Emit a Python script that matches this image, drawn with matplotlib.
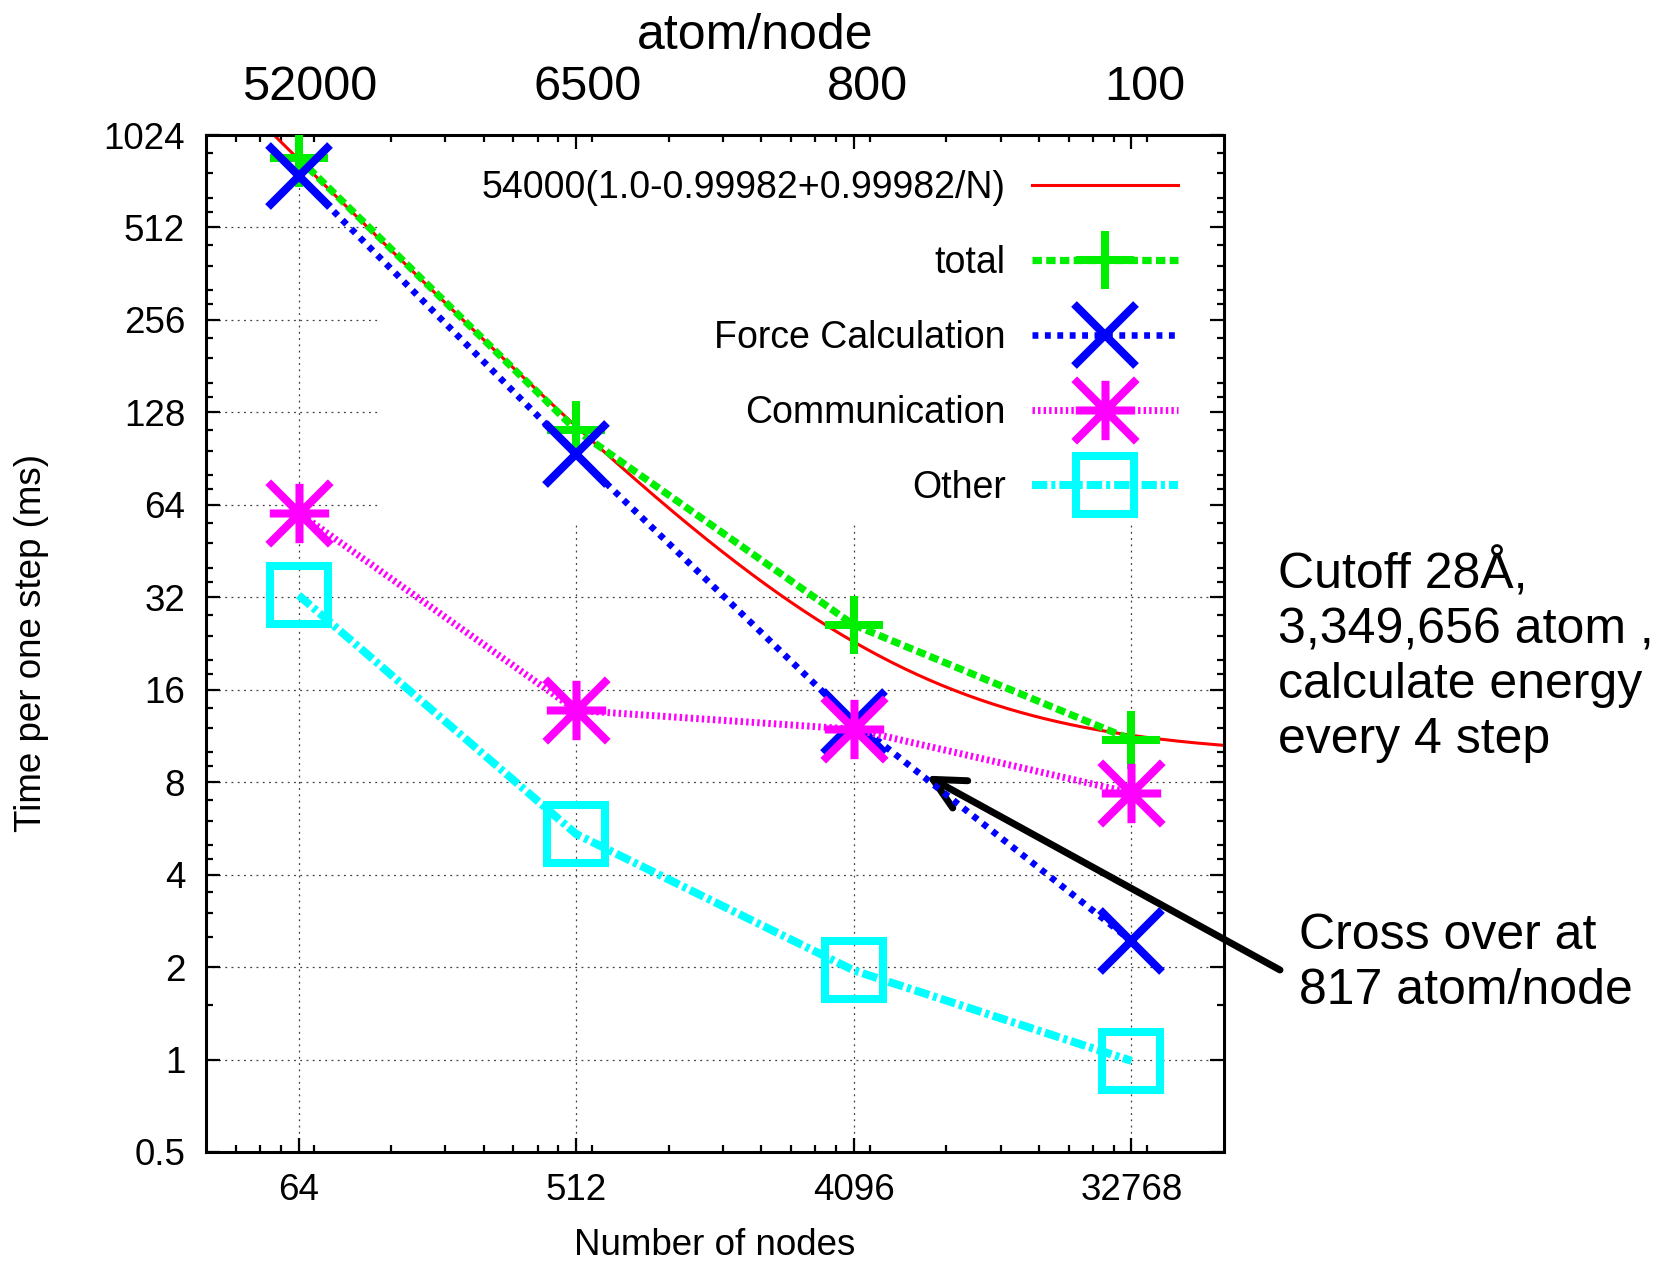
import matplotlib
matplotlib.use("Agg")
import matplotlib.pyplot as plt
import numpy as np
from matplotlib.path import Path
from matplotlib.ticker import NullFormatter
from matplotlib.transforms import blended_transform_factory

plt.rcParams['font.family'] = ['Liberation Sans', 'DejaVu Sans']

# ---- data ----
nodes = [64, 512, 4096, 32768]
total = [860, 112, 26.0, 11.0]
force_calc = [752, 93.4, 12.6, 2.43]
communication = [60.3, 13.7, 11.9, 7.38]
other = [32.5, 5.42, 1.95, 0.99]

# model curve from the legend: 54000(1.0-0.99982+0.99982/N)
model_scale = 54000
model_par = 0.99982

n_atoms = 3349656
atom_labels = [52000, 6500, 800, 100]

y_ticks = [0.5, 1, 2, 4, 8, 16, 32, 64, 128, 256, 512, 1024]
crossover_point = (7040, 8.4)

# ---- figure ----
fig = plt.figure(figsize=(16.59, 12.62), dpi=100)
ax = fig.add_axes([0.1242, 0.0872, 0.6136, 0.8058])

ax.set_xscale('log', base=2)
ax.set_yscale('log', base=2)
ax.set_xlim(32, 65536)
ax.set_ylim(0.5, 1024)

# gnuplot style minor ticks
x_minor = []
for k in range(1, 6):
    for n in [2, 3, 4, 5, 6, 7, 9]:
        v = n * 8 ** k
        if 32 < v < 65536:
            x_minor.append(v)
y_minor = []
for k in range(-1, 10):
    for f in [1.125, 1.25, 1.5, 1.75]:
        v = 2.0 ** k * f
        if (v * 2) == int(v * 2):
            y_minor.append(v)

ax.set_xticks(nodes)
ax.set_xticklabels([str(n) for n in nodes])
ax.set_xticks(x_minor, minor=True)
ax.set_yticks(y_ticks)
ax.set_yticklabels([('%g' % v) for v in y_ticks])
ax.set_yticks(y_minor, minor=True)
ax.xaxis.set_minor_formatter(NullFormatter())
ax.yaxis.set_minor_formatter(NullFormatter())
ax.tick_params(which='both', direction='in', top=True, right=True, width=1.6,
               labelsize=26.5)
ax.tick_params(which='major', length=10)
ax.tick_params(which='minor', length=5)
ax.tick_params(axis='x', pad=15)
ax.tick_params(axis='y', pad=15)
for s in ax.spines.values():
    s.set_linewidth(2.2)

# grid, hidden behind the key area
key_left = 0.168
key_bottom = 0.618
grid_kw = dict(color='0.25', lw=0.9, linestyle=(0, (1.5, 3.5)), zorder=1)
for y in y_ticks[1:-1]:
    xmax = key_left if y > 55 else 1.0
    ax.axhline(y, xmin=0, xmax=xmax, **grid_kw)
for x in nodes:
    ymax = key_bottom if x > 115 else 1.0
    ax.axvline(x, ymin=0, ymax=ymax, **grid_kw)

# model curve
n_fine = np.geomspace(32, 65536, 400)
model = model_scale * (1.0 - model_par + model_par / n_fine)
ax.plot(n_fine, model, color='#ff0000', lw=2.2, zorder=2,
        label='54000(1.0-0.99982+0.99982/N)')

asterisk = Path([(-0.95, 0), (0.95, 0), (0, -0.95), (0, 0.95),
                 (-1, -1), (1, 1), (-1, 1), (1, -1)],
                [Path.MOVETO, Path.LINETO] * 4)

ax.plot(nodes, total, color='#00ee00', lw=5.2, linestyle=(0, (1.3, 0.6)),
        marker='+', ms=42, mew=5.8, zorder=3, label='total')
ax.plot(nodes, force_calc, color='#0000ff', lw=4.7, linestyle=(0, (0.9, 1.0)),
        marker='x', ms=44, mew=5.8, zorder=4, label='Force Calculation')
ax.plot(nodes, communication, color='#ff00ff', lw=5, linestyle=(0, (0.35, 0.45)),
        marker=asterisk, ms=45, mew=5.8, mfc='none', zorder=5, label='Communication')
ax.plot(nodes, other, color='#00ffff', lw=5.8, linestyle=(0, (1.9, 0.5, 0.5, 0.5)),
        marker='s', ms=42, mew=5.8, mfc='none', zorder=6, label='Other')

leg = ax.legend(loc='upper right', bbox_to_anchor=(1178 / 1659, 1 - 170 / 1262),
                bbox_transform=fig.transFigure, frameon=False, markerfirst=False,
                fontsize=27, handlelength=3.9, handletextpad=0.7,
                labelspacing=1.04, borderpad=0, borderaxespad=0, numpoints=1)

# top "atom/node" labels
trans = blended_transform_factory(ax.transData, ax.transAxes)
for lab in atom_labels:
    ax.text(n_atoms / lab * 1.08, 1.034, str(lab), transform=trans, ha='center',
            va='baseline', fontsize=35)
fig.text(755 / 1659, 1 - 49 / 1262, 'atom/node', ha='center', va='baseline',
         fontsize=36)

ax.set_xlabel('Number of nodes', fontsize=26.5)
ax.xaxis.set_label_coords(0.5, -0.075)
ax.set_ylabel('Time per one step (ms)', fontsize=26.5)
ax.yaxis.set_label_coords(-0.154, 0.5)

fig.text(1278 / 1659, 1 - 548 / 1262,
         'Cutoff 28Å,\n3,349,656 atom ,\ncalculate energy\nevery 4 step',
         ha='left', va='top', fontsize=36, linespacing=1.25)
fig.text(1299 / 1659, 1 - 913 / 1262, 'Cross over at\n817 atom/node',
         ha='left', va='top', fontsize=36, linespacing=1.25)

ax.annotate('', xy=crossover_point, xycoords='data',
            xytext=(1280 / 1659, 1 - 970 / 1262), textcoords='figure fraction',
            arrowprops=dict(arrowstyle='->', lw=5, color='black',
                            mutation_scale=56, shrinkA=0, shrinkB=0),
            annotation_clip=False)

fig.savefig('out.png', dpi=100)
